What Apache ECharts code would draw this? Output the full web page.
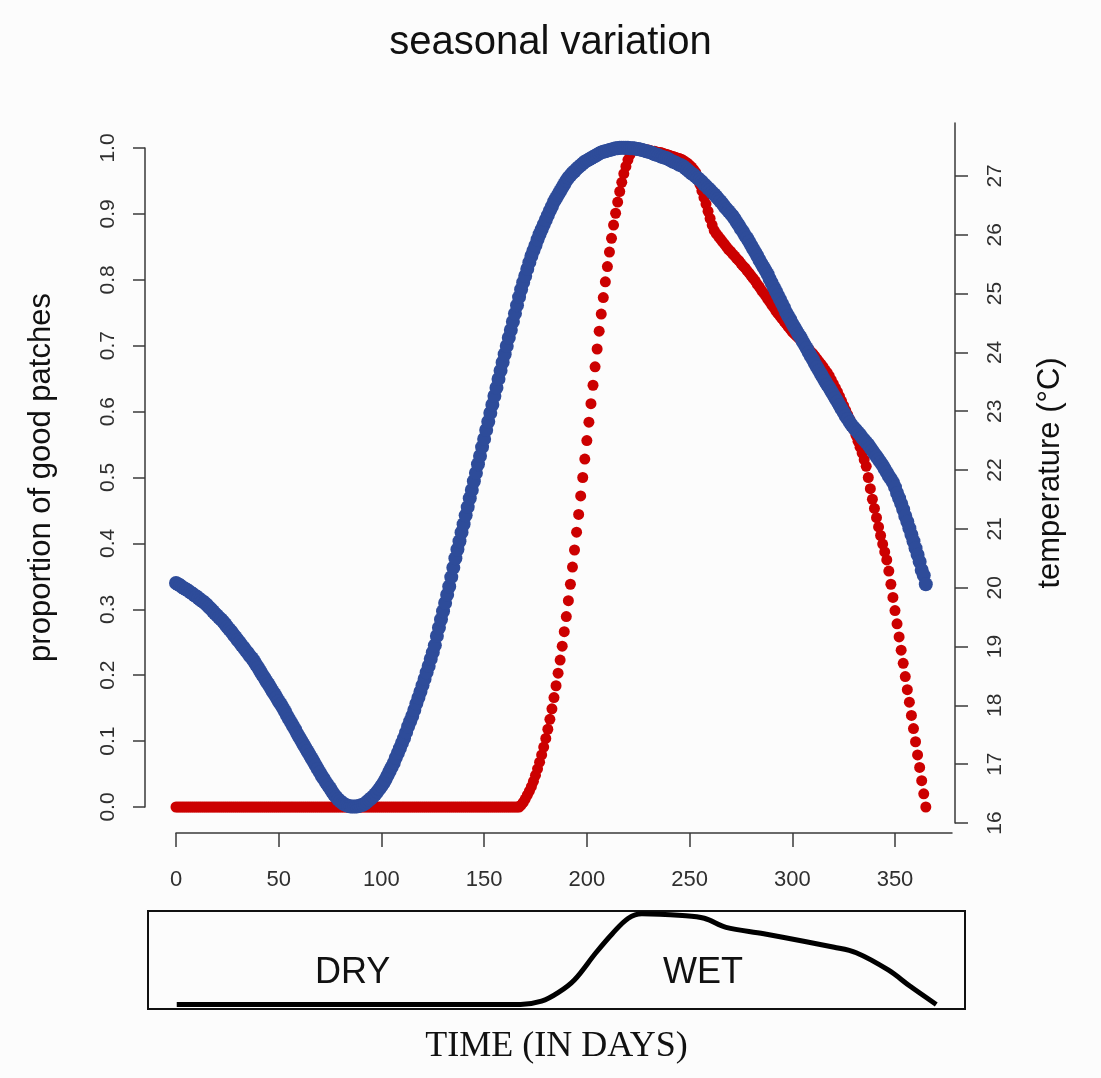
<!DOCTYPE html>
<html>
<head>
<meta charset="utf-8">
<script src="https://cdn.jsdelivr.net/npm/echarts@6/dist/echarts.min.js"></script>
<style>
html,body{margin:0;padding:0;background:#fcfcfc;}
#chart{width:1101px;height:1078px;}
</style>
</head>
<body>
<div id="chart"></div>
<script>
// ---------- data ----------
const xTicks = [0, 50, 100, 150, 200, 250, 300, 350];
const leftTicksMin = 0, leftTicksMax = 1, leftTickStep = 0.1;
const tempTicks = [16, 17, 18, 19, 20, 21, 22, 23, 24, 25, 26, 27];

// proportion of good patches, one value per day (day 0 .. 365)
const goodPatches = [
0,0,0,0,0,0,0,0,0,0,0,0,0,0,0,0,0,0,0,0,
0,0,0,0,0,0,0,0,0,0,0,0,0,0,0,0,0,0,0,0,
0,0,0,0,0,0,0,0,0,0,0,0,0,0,0,0,0,0,0,0,
0,0,0,0,0,0,0,0,0,0,0,0,0,0,0,0,0,0,0,0,
0,0,0,0,0,0,0,0,0,0,0,0,0,0,0,0,0,0,0,0,
0,0,0,0,0,0,0,0,0,0,0,0,0,0,0,0,0,0,0,0,
0,0,0,0,0,0,0,0,0,0,0,0,0,0,0,0,0,0,0,0,
0,0,0,0,0,0,0,0,0,0,0,0,0,0,0,0,0,0,0,0,
0,0,0,0,0,0,0,
0.000,0.003,0.007,0.012,0.018,0.024,0.031,0.039,0.048,0.058,
0.068,0.079,0.091,0.104,0.118,0.133,0.149,0.166,0.184,0.203,
0.223,0.244,0.266,0.289,0.313,0.338,0.364,0.390,0.417,0.444,
0.472,0.500,0.528,0.556,0.584,0.612,0.640,0.668,0.695,0.722,
0.748,0.773,0.797,0.820,0.842,0.863,0.883,0.901,0.918,0.934,
0.948,0.961,0.972,0.982,0.990,0.996,1.000,
1.000,0.999,0.999,0.998,0.998,0.997,0.997,0.996,0.995,0.995,
0.994,0.993,0.993,0.992,0.991,0.990,0.989,0.988,0.987,0.986,
0.985,0.984,0.983,0.981,0.979,0.977,0.974,0.971,0.967,0.963,
0.955,0.945,0.935,0.925,0.915,0.904,0.893,0.883,0.875,0.870,
0.866,0.862,0.858,0.854,0.850,0.846,0.843,0.839,0.836,0.832,
0.829,0.825,0.821,0.818,0.814,0.810,0.806,0.802,0.798,0.793,
0.789,0.784,0.780,0.776,0.771,0.767,0.762,0.758,0.753,0.749,
0.745,0.741,0.737,0.733,0.729,0.725,0.721,0.718,0.715,0.712,
0.709,0.706,0.702,0.698,0.695,0.691,0.688,0.684,0.680,0.676,
0.672,0.668,0.663,0.659,0.654,0.648,0.642,0.636,0.630,0.623,
0.616,0.609,0.602,0.595,0.588,0.580,0.572,0.564,0.555,0.546,
0.537,0.527,0.517,0.500,0.483,0.467,0.453,0.439,0.425,0.412,
0.399,0.387,0.375,0.358,0.338,0.318,0.298,0.278,0.258,0.238,
0.218,0.198,0.178,0.159,0.139,0.119,0.099,0.079,0.060,0.040,
0.020,0.000
];

// temperature (°C), one value per day (day 0 .. 365)
const temperature = [
20.08,20.06,20.04,20.01,19.99,19.97,19.95,19.92,19.90,19.87,
19.85,19.82,19.79,19.77,19.74,19.71,19.67,19.64,19.60,19.56,
19.53,19.49,19.46,19.42,19.38,19.33,19.29,19.25,19.20,19.16,
19.11,19.07,19.02,18.98,18.93,18.89,18.84,18.80,18.75,18.69,
18.64,18.58,18.52,18.47,18.41,18.36,18.30,18.24,18.19,18.13,
18.07,18.02,17.96,17.90,17.83,17.77,17.71,17.65,17.59,17.52,
17.46,17.40,17.34,17.28,17.22,17.16,17.10,17.04,16.98,16.92,
16.86,16.80,16.75,16.69,16.64,16.59,16.53,16.48,16.44,16.40,
16.37,16.34,16.32,16.30,16.29,16.28,16.28,16.28,16.28,16.29,
16.30,16.31,16.33,16.36,16.39,16.42,16.45,16.49,16.53,16.58,
16.63,16.68,16.74,16.81,16.88,16.95,17.02,17.11,17.19,17.27,
17.36,17.44,17.54,17.64,17.73,17.82,17.92,18.03,18.13,18.23,
18.34,18.45,18.56,18.67,18.79,18.90,19.02,19.18,19.32,19.46,
19.60,19.74,19.88,20.02,20.18,20.34,20.50,20.65,20.79,20.94,
21.08,21.23,21.37,21.52,21.66,21.81,21.95,22.10,22.24,22.39,
22.53,22.68,22.82,22.97,23.11,23.26,23.40,23.55,23.69,23.83,
23.97,24.11,24.25,24.38,24.52,24.66,24.80,24.94,25.07,25.19,
25.30,25.42,25.53,25.64,25.73,25.82,25.92,26.01,26.09,26.17,
26.25,26.33,26.41,26.48,26.56,26.62,26.68,26.74,26.80,26.86,
26.92,26.97,27.01,27.05,27.08,27.12,27.15,27.18,27.21,27.24,
27.26,27.28,27.30,27.32,27.34,27.36,27.38,27.40,27.41,27.42,
27.43,27.44,27.45,27.46,27.47,27.47,27.48,27.48,27.48,27.48,
27.48,27.47,27.47,27.47,27.46,27.46,27.45,27.44,27.43,27.42,
27.41,27.40,27.39,27.37,27.36,27.35,27.33,27.32,27.31,27.30,
27.28,27.26,27.24,27.23,27.21,27.19,27.18,27.16,27.13,27.10,
27.07,27.04,27.02,26.99,26.96,26.93,26.90,26.86,26.83,26.79,
26.76,26.72,26.69,26.65,26.61,26.57,26.53,26.48,26.44,26.40,
26.36,26.32,26.27,26.21,26.16,26.10,26.05,25.99,25.94,25.88,
25.82,25.76,25.70,25.64,25.57,25.51,25.45,25.39,25.33,25.25,
25.18,25.11,25.04,24.97,24.90,24.83,24.76,24.68,24.62,24.56,
24.49,24.43,24.37,24.31,24.26,24.19,24.13,24.07,24.00,23.94,
23.88,23.81,23.75,23.69,23.63,23.57,23.51,23.45,23.40,23.34,
23.28,23.22,23.16,23.10,23.04,22.98,22.92,22.87,22.81,22.76,
22.72,22.68,22.64,22.60,22.55,22.51,22.47,22.43,22.38,22.33,
22.28,22.23,22.18,22.13,22.08,22.02,21.96,21.90,21.85,21.79,
21.71,21.61,21.52,21.43,21.33,21.22,21.12,21.01,20.90,20.79,
20.67,20.56,20.44,20.30,20.21,20.06
];

// wetness profile of the lower panel (day, relative level)
const wetDays  = [0, 50, 100, 150, 167.5, 177.7, 185.8, 193.7, 204.2, 212.2, 220, 226.6, 246.3, 257, 267.6, 286, 320.3, 331, 346.6, 357.3, 370];
const wetLevel = [0, 0, 0, 0, 0, 0.036, 0.13, 0.27, 0.57, 0.78, 0.95, 1.0, 0.98, 0.95, 0.85, 0.78, 0.63, 0.57, 0.38, 0.20, 0];

const panelLabels = ['DRY', 'WET'];
const titleText = 'seasonal variation';
const leftName = 'proportion of good patches';
const rightName = 'temperature (°C)';
const xName = 'TIME (IN DAYS)';

// ---------- chart ----------
const chart = echarts.init(document.getElementById('chart'), null, {renderer: 'canvas'});
const sans = "'Liberation Sans', Arial, sans-serif";
const serif = "'Liberation Serif', 'Times New Roman', serif";
const axisCol = '#3a3a3a';
const labCol = '#2f2f2f';

const redData = goodPatches.map((v, i) => [i, v]);
const blueData = temperature.map((v, i) => [i, v]);
const wetData = wetDays.map((d, i) => [d, wetLevel[i]]);

const hidden = {show: false};
const noSplit = {show: false};

const option = {
  backgroundColor: '#fcfcfc',
  animation: false,
  title: {
    text: titleText, left: 'center', top: 18,
    textStyle: {fontFamily: sans, fontSize: 40, fontWeight: 'normal', color: '#111'}
  },
  grid: [
    {left: 176, top: 148, width: 776, height: 659},
    {left: 176, top: 123, width: 776, height: 700},
    {left: 148, top: 911, width: 817, height: 98, show: true, borderColor: '#111', borderWidth: 2, backgroundColor: 'transparent'}
  ],
  xAxis: [
    {
      gridIndex: 0, type: 'value', min: 0, max: 377.75, position: 'bottom', offset: 26,
      axisLine: {show: true, onZero: false, lineStyle: {color: axisCol, width: 1.5}},
      axisTick: {show: true, length: 14, lineStyle: {color: axisCol, width: 1.5}, customValues: xTicks},
      axisLabel: {show: true, customValues: xTicks, margin: 36, fontSize: 22, fontFamily: sans, color: labCol},
      splitLine: noSplit
    },
    {gridIndex: 1, type: 'value', min: 0, max: 377.75, show: false, axisLine: {onZero: false}, splitLine: noSplit},
    {
      gridIndex: 2, type: 'value', min: -14, max: 384,
      axisLine: {show: false, onZero: false}, axisTick: hidden, axisLabel: hidden, splitLine: noSplit,
      name: xName, nameLocation: 'middle', nameGap: 20,
      nameTextStyle: {fontFamily: serif, fontSize: 36, color: '#111'}
    }
  ],
  yAxis: [
    {
      gridIndex: 0, type: 'value', min: leftTicksMin, max: leftTicksMax, interval: leftTickStep,
      position: 'left', offset: 31,
      axisLine: {show: true, onZero: false, lineStyle: {color: axisCol, width: 1.5}},
      axisTick: {show: true, length: 12, lineStyle: {color: axisCol, width: 1.5}},
      axisLabel: {rotate: 90, margin: 26, fontSize: 21, fontFamily: sans, color: labCol,
                  formatter: v => v.toFixed(1)},
      splitLine: noSplit,
      name: leftName, nameLocation: 'middle', nameGap: 88,
      nameTextStyle: {fontFamily: sans, fontSize: 31, color: '#111'}
    },
    {
      gridIndex: 1, type: 'value', min: 16, max: 27.9, position: 'right', offset: 3,
      axisLine: {show: true, onZero: false, lineStyle: {color: axisCol, width: 1.5}},
      axisTick: {show: true, length: 13, lineStyle: {color: axisCol, width: 1.5}, customValues: tempTicks},
      axisLabel: {rotate: 90, customValues: tempTicks, margin: 30, fontSize: 21, fontFamily: sans, color: labCol},
      splitLine: noSplit,
      name: rightName, nameLocation: 'middle', nameGap: 80,
      nameTextStyle: {fontFamily: sans, fontSize: 31, color: '#111'}
    },
    {gridIndex: 2, type: 'value', min: -0.05, max: 1.03, show: false, axisLine: {onZero: false}, splitLine: noSplit}
  ],
  graphic: [
    {type: 'text', left: 352 - 37, top: 975 - 20, style: {text: panelLabels[0], font: '36px ' + sans, fill: '#111'}},
    {type: 'text', left: 703 - 40, top: 975 - 20, style: {text: panelLabels[1], font: '36px ' + sans, fill: '#111'}}
  ],
  series: [
    {
      type: 'scatter', xAxisIndex: 0, yAxisIndex: 0, data: redData,
      symbol: 'circle', symbolSize: 11, itemStyle: {color: '#cc0000', opacity: 1}, silent: true, clip: false
    },
    {
      type: 'scatter', xAxisIndex: 1, yAxisIndex: 1, data: blueData,
      symbol: 'circle', symbolSize: 14, itemStyle: {color: '#2e4c9a', opacity: 1}, silent: true, clip: false
    },
    {
      type: 'line', xAxisIndex: 2, yAxisIndex: 2, data: wetData, smooth: 0.35, showSymbol: false,
      lineStyle: {color: '#000', width: 5}, silent: true
    }
  ]
};
chart.setOption(option);
</script>
</body>
</html>
